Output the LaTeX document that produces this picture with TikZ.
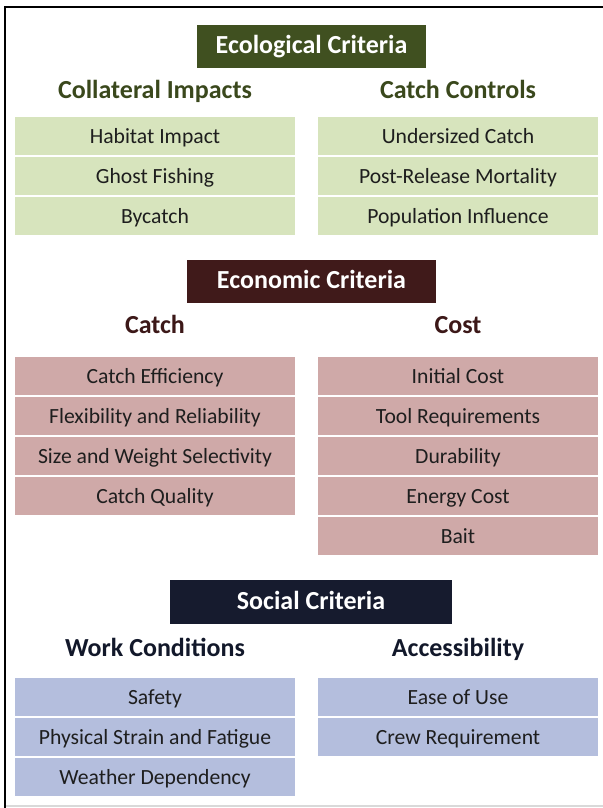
\documentclass[tikz,border=0pt]{standalone}
\usepackage{fontspec}
\setmainfont{Carlito}
\usetikzlibrary{positioning}

\definecolor{ecodark}{RGB}{64,80,32}
\definecolor{ecohead}{RGB}{58,72,28}
\definecolor{ecofill}{RGB}{215,228,189}
\definecolor{econdark}{RGB}{64,26,26}
\definecolor{econhead}{RGB}{60,24,24}
\definecolor{econfill}{RGB}{207,169,168}
\definecolor{socdark}{RGB}{22,27,46}
\definecolor{sochead}{RGB}{18,24,42}
\definecolor{socfill}{RGB}{180,190,221}
\definecolor{itemtext}{RGB}{30,30,30}

\newlength{\pxu}
\setlength{\pxu}{0.025cm}
\tikzset{
  title/.style={fill=#1,text=white,inner sep=0pt,minimum height=43\pxu,
    text height=2.3ex,text depth=.2ex,
    font=\fontsize{18.5}{22}\selectfont\bfseries},
  group/.style={text=#1,inner sep=0pt,text height=2.3ex,text depth=.2ex,
    font=\fontsize{18.5}{22}\selectfont\bfseries},
  item/.style={fill=#1,text=itemtext,inner sep=0pt,minimum width=280\pxu,
    minimum height=38\pxu,text height=2.3ex,text depth=.2ex,
    font=\fontsize{15.4}{18}\selectfont},
}

\begin{document}
\begin{tikzpicture}[x=0.025cm,y=-0.025cm]
	\useasboundingbox (0,0) rectangle (603,808);
	% frame
	\draw[black!15,line width=1pt] (5,806) -- (603,806);
	\draw[line width=1.5pt] (5,808) -- (5,7) -- (610,7);

	% ecological
	\node[title=ecodark,minimum width=229\pxu] (eco) at (311.5,46.5) {Ecological Criteria};
	\node[group=ecohead] (colimp) at (155,91) {Collateral Impacts};
	\node[group=ecohead] (catchctl) at (458,91) {Catch Controls};
	\node[item=ecofill] (habitat) at (155,136) {Habitat Impact};
	\node[item=ecofill] (ghost) at (155,176) {Ghost Fishing};
	\node[item=ecofill] (bycatch) at (155,216) {Bycatch};
	\node[item=ecofill] (undersized) at (458,136) {Undersized Catch};
	\node[item=ecofill] (mortality) at (458,176) {Post-Release Mortality};
	\node[item=ecofill] (population) at (458,216) {Population Influence};

	% economic
	\node[title=econdark,minimum width=249\pxu] (econ) at (311.5,281.5) {Economic Criteria};
	\node[group=econhead] (catch) at (155,326) {Catch};
	\node[group=econhead] (cost) at (458,326) {Cost};
	\node[item=econfill] (efficiency) at (155,376) {Catch Efficiency};
	\node[item=econfill] (flexibility) at (155,416) {Flexibility and Reliability};
	\node[item=econfill] (selectivity) at (155,456) {Size and Weight Selectivity};
	\node[item=econfill] (quality) at (155,496) {Catch Quality};
	\node[item=econfill] (initial) at (458,376) {Initial Cost};
	\node[item=econfill] (tools) at (458,416) {Tool Requirements};
	\node[item=econfill] (durability) at (458,456) {Durability};
	\node[item=econfill] (energy) at (458,496) {Energy Cost};
	\node[item=econfill] (bait) at (458,536) {Bait};

	% social
	\node[title=socdark,minimum width=282\pxu,minimum height=44\pxu] (soc) at (311,602) {Social Criteria};
	\node[group=sochead] (work) at (155,649) {Work Conditions};
	\node[group=sochead] (access) at (458,649) {Accessibility};
	\node[item=socfill] (safety) at (155,697) {Safety};
	\node[item=socfill] (strain) at (155,737) {Physical Strain and Fatigue};
	\node[item=socfill] (weather) at (155,777) {Weather Dependency};
	\node[item=socfill] (ease) at (458,697) {Ease of Use};
	\node[item=socfill] (crew) at (458,737) {Crew Requirement};
\end{tikzpicture}
\end{document}
